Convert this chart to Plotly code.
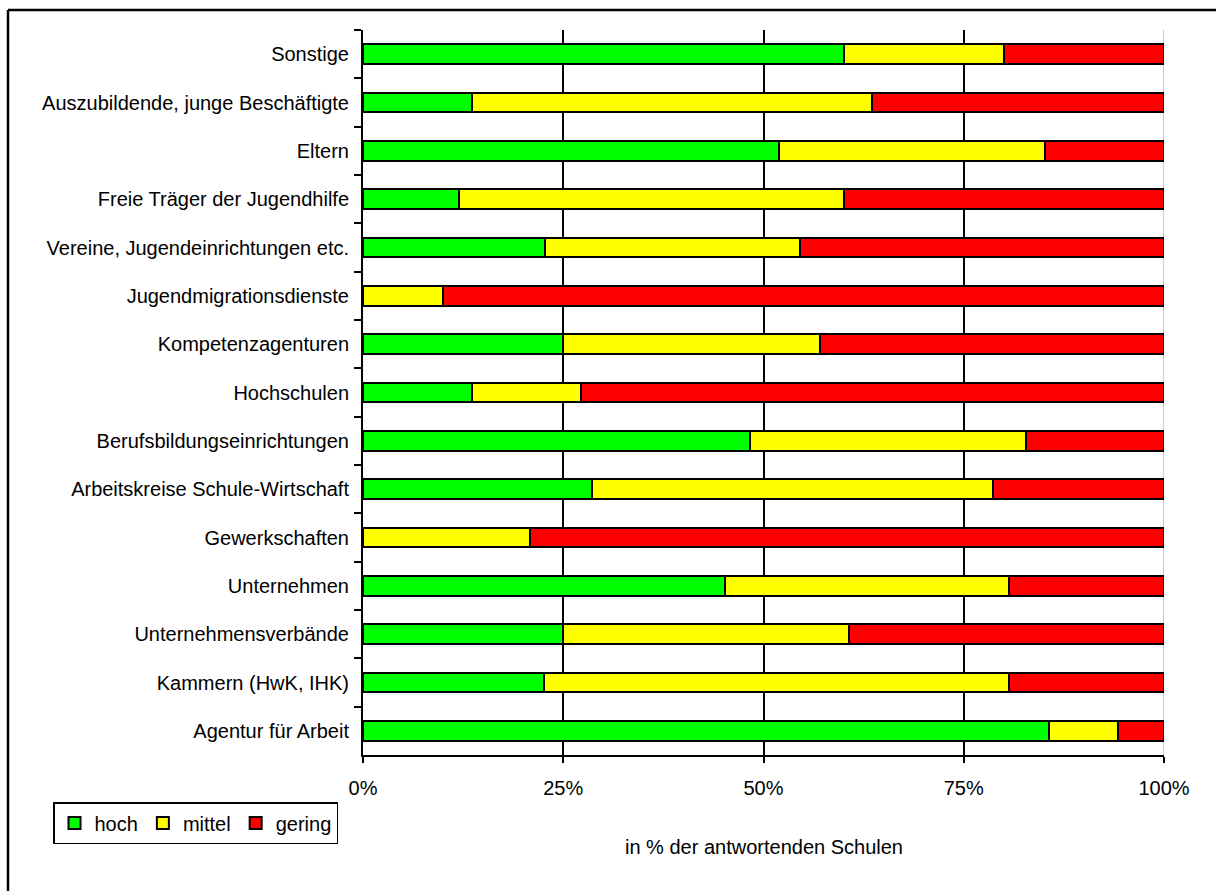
import plotly.graph_objects as go

# Kategorien von oben nach unten
kategorien = [
    "Sonstige",
    "Auszubildende, junge Beschäftigte",
    "Eltern",
    "Freie Träger der Jugendhilfe",
    "Vereine, Jugendeinrichtungen etc.",
    "Jugendmigrationsdienste",
    "Kompetenzagenturen",
    "Hochschulen",
    "Berufsbildungseinrichtungen",
    "Arbeitskreise Schule-Wirtschaft",
    "Gewerkschaften",
    "Unternehmen",
    "Unternehmensverbände",
    "Kammern (HwK, IHK)",
    "Agentur für Arbeit",
]

# Anteile in % der antwortenden Schulen
hoch = [60, 13.6, 51.9, 12, 22.7, 0, 25, 13.6, 48.3, 28.6, 0, 45.2, 25, 22.6, 85.7]
mittel = [20, 50, 33.3, 48, 31.8, 10, 32.1, 13.6, 34.5, 50, 20.8, 35.5, 35.7, 58.1, 8.6]
gering = [20, 36.4, 14.8, 40, 45.5, 90, 42.9, 72.8, 17.2, 21.4, 79.2, 19.3, 39.3, 19.3, 5.7]

x_ticks = [0, 25, 50, 75, 100]
x_ticktext = ["0%", "25%", "50%", "75%", "100%"]

FONT = "Liberation Sans, Arial, sans-serif"
FS = 20

serien = [
    ("hoch", hoch, "#00FF00"),
    ("mittel", mittel, "#FFFF00"),
    ("gering", gering, "#FF0000"),
]

fig = go.Figure()
for name, werte, farbe in serien:
    fig.add_trace(go.Bar(
        y=kategorien,
        x=werte,
        name=name,
        orientation="h",
        marker=dict(color=farbe, line=dict(color="black", width=2)),
        hoverinfo="x+y+name",
    ))

# Pixelgeometrie des Diagrammbereichs
W, H = 1216, 891
L, R, T, B = 363, 1164, 30, 755


def px_x(px):
    return (px - L) / (R - L)


def px_y(py):
    return (B - py) / (B - T)


fig.update_layout(
    width=W,
    height=H,
    barmode="stack",
    bargap=0.59,
    paper_bgcolor="white",
    plot_bgcolor="white",
    margin=dict(l=L, r=W - R, t=T, b=H - B, pad=0),
    font=dict(family=FONT, size=FS, color="black"),
    showlegend=True,
    legend=dict(
        orientation="h",
        x=px_x(53),
        y=px_y(802),
        xanchor="left",
        yanchor="top",
        bordercolor="black",
        borderwidth=1.5,
        bgcolor="white",
        font=dict(family=FONT, size=FS, color="black"),
        traceorder="normal",
        itemwidth=30,
        tracegroupgap=0,
    ),
    xaxis=dict(
        range=[0, 100],
        tickvals=x_ticks,
        ticktext=x_ticktext,
        ticks="outside",
        ticklen=6,
        tickwidth=2,
        tickcolor="black",
        showline=True,
        linecolor="black",
        linewidth=2,
        showgrid=True,
        gridcolor="black",
        gridwidth=2,
        zeroline=False,
        ticklabelstandoff=8,
        tickfont=dict(family=FONT, size=FS),
        fixedrange=True,
    ),
    yaxis=dict(
        categoryorder="array",
        categoryarray=kategorien,
        autorange="reversed",
        ticks="outside",
        tickson="boundaries",
        ticklen=7,
        tickwidth=2,
        tickcolor="black",
        showline=True,
        linecolor="black",
        linewidth=2,
        showgrid=False,
        ticklabelstandoff=8,
        tickfont=dict(family=FONT, size=FS),
        fixedrange=True,
    ),
)

# Hellgraue Begrenzung bei 100 %
fig.add_shape(
    type="line", xref="x", yref="paper",
    x0=100, x1=100, y0=0, y1=1,
    line=dict(color="#C8C8C8", width=2),
    layer="below",
)

# Achsentitel
fig.add_annotation(
    text="in % der antwortenden Schulen",
    xref="paper", yref="paper",
    x=0.5, y=px_y(847),
    xanchor="center", yanchor="middle",
    showarrow=False,
    font=dict(family=FONT, size=FS, color="black"),
)

# Rahmen um die Grafik: obere und linke Kante (rechts/unten außerhalb des Bildes)
rahmen = dict(color="black", width=2.5)
fig.add_shape(
    type="line", xref="paper", yref="paper",
    x0=px_x(8), y0=px_y(10), x1=px_x(1260), y1=px_y(10),
    line=rahmen, layer="below",
)
fig.add_shape(
    type="line", xref="paper", yref="paper",
    x0=px_x(8), y0=px_y(10), x1=px_x(8), y1=px_y(940),
    line=rahmen, layer="below",
)

fig.write_html("out.html", include_plotlyjs=True, config={"displayModeBar": False})
